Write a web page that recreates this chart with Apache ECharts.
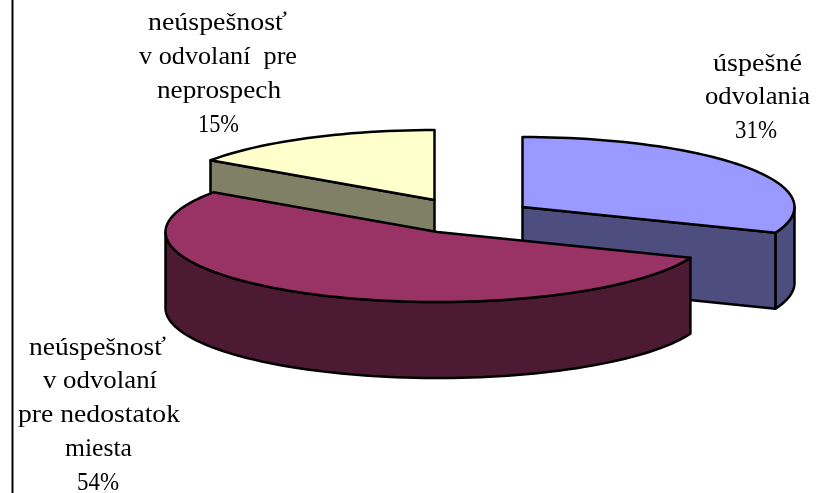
<!DOCTYPE html>
<html>
<head>
<meta charset="utf-8">
<style>html,body{margin:0;padding:0;background:#fff}#c{width:818px;height:493px}</style>
<script src="https://cdn.jsdelivr.net/npm/echarts@6/dist/echarts.min.js"></script>
</head>
<body>
<div id="c"></div>
<script>
// Data (printed as 31 %, 54 %, 15 %)
const categories = ['úspešné odvolania', 'neúspešnosť v odvolaní pre nedostatok miesta', 'neúspešnosť v odvolaní pre neprospech'];
const values = [31, 53.6, 15.4];
const labelLines = [
  ['úspešné', 'odvolania'],
  ['neúspešnosť', 'v odvolaní', 'pre nedostatok', 'miesta'],
  ['neúspešnosť', 'v odvolaní  pre', 'neprospech']
];

// Layout
const apex = [[522.5, 207], [437.5, 232], [434.5, 200]];
const paintOrder = [2, 3, 1];
const RX = 272, RY = 70, DEPTH = 76, FONT_SIZE = 26;
const topColors = ['#9999FF', '#993366', '#FFFFCC'];
const sideColors = ['#4D4D80', '#4D1A33', '#808066'];
// [centre x, baseline y, width] for each text line, percent line last
const labelBoxes = [
  [[757.5, 71, 89], [757.5, 104, 105], [756, 138, 42]],
  [[97.5, 355, 137], [100, 388, 114], [99, 422, 162], [98.5, 456.5, 67], [98, 490, 42]],
  [[217.5, 30.5, 139], [218, 64, 158], [219, 98, 124], [218.5, 132.5, 41]]
];
const FONT = FONT_SIZE + 'px "Liberation Serif"';
const measureCtx = document.createElement('canvas').getContext('2d');
measureCtx.font = FONT;

function rimPoint(c, deg, dy) {
  const a = deg * Math.PI / 180;
  return [c[0] + RX * Math.sin(a), c[1] - RY * Math.cos(a) + (dy || 0)];
}
function arc(c, from, to, dy) {
  const pts = [], n = Math.max(2, Math.ceil(Math.abs(to - from) / 2));
  for (let i = 0; i <= n; i++) pts.push(rimPoint(c, from + (to - from) * i / n, dy));
  return pts;
}
const total = values.reduce((a, b) => a + b, 0);

function renderItem(params, api) {
  const i = params.dataIndex;
  const c = apex[i];
  const before = values.slice(0, i).reduce((a, b) => a + b, 0);
  const start = before / total * 360;
  const end = (before + api.value(0)) / total * 360;
  const z = paintOrder[i] * 10;
  const children = [];
  const poly = (pts, fill, zz) => {
    children.push({
      type: 'polygon', z2: zz,
      shape: { points: pts.map(p => api.coord(p)) },
      style: { fill: fill, stroke: '#000', lineWidth: 2.5, lineJoin: 'round' }
    });
  };
  // outer wall (front half only)
  const a = Math.max(start, 90), b = Math.min(end, 270);
  if (b > a) poly(arc(c, a, b, 0).concat(arc(c, b, a, DEPTH)), sideColors[i], z);
  // radial walls facing the viewer
  const radial = deg => {
    const p = rimPoint(c, deg);
    poly([c, p, [p[0], p[1] + DEPTH], [c[0], c[1] + DEPTH]], sideColors[i], z + 1);
  };
  if (Math.sin(end * Math.PI / 180) > 1e-6) radial(end);
  if (-Math.sin(start * Math.PI / 180) > 1e-6) radial(start);
  // top face
  poly([c].concat(arc(c, start, end, 0)), topColors[i], z + 2);
  // label
  const lines = labelLines[i].concat([Math.round(api.value(0)) + '%']);
  lines.forEach((t, k) => {
    const box = labelBoxes[i][k];
    const pos = api.coord([box[0], box[1] - 7]);
    children.push({
      type: 'text', z2: 100,
      x: pos[0], y: pos[1],
      scaleX: box[2] / measureCtx.measureText(t).width,
      style: { text: t, font: FONT, fill: '#000', align: 'center', verticalAlign: 'middle' }
    });
  });
  return { type: 'group', children: children };
}

const chart = echarts.init(document.getElementById('c'), null, { renderer: 'canvas' });
chart.setOption({
  animation: false,
  backgroundColor: '#fff',
  grid: { left: 0, right: 0, top: 0, bottom: 0 },
  xAxis: { type: 'value', min: 0, max: 818, show: false },
  yAxis: { type: 'value', min: 0, max: 493, inverse: true, show: false },
  graphic: [{ type: 'line', shape: { x1: 12.5, y1: 0, x2: 12.5, y2: 493 }, style: { stroke: '#000', lineWidth: 2 } }],
  series: [{
    type: 'custom',
    name: 'odvolania',
    clip: false,
    renderItem: renderItem,
    data: values.map((v, i) => ({ name: categories[i], value: [v] })),
    encode: { x: -1, y: -1 }
  }]
});
</script>
</body>
</html>
